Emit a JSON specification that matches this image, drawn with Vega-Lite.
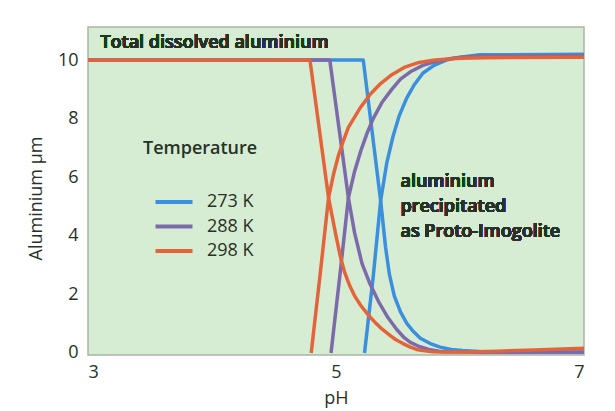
{
  "$schema": "https://vega.github.io/schema/vega-lite/v6.json",
  "autosize": "none",
  "width": 496,
  "height": 328,
  "padding": {"left": 88, "top": 27, "right": 31, "bottom": 56},
  "background": "#ffffff",
  "config": {
    "view": {"fill": "#d7edd3", "stroke": "#a9b5a7", "strokeWidth": 1.5},
    "font": "Open Sans",
    "axis": {
      "labelFont": "Open Sans",
      "titleFont": "Open Sans",
      "labelColor": "#263226",
      "titleColor": "#263226",
      "labelFontSize": 18,
      "titleFontSize": 18,
      "labelFontWeight": 500,
      "titleFontWeight": 500,
      "ticks": false,
      "grid": false,
      "domain": false
    },
    "legend": {
      "labelFont": "Open Sans",
      "titleFont": "Open Sans"
    }
  },
  "data": {
    "values": [
      {"pH": 3.0, "al": 10.0, "temp": "273 K", "kind": "dissolved"},
      {"pH": 5.22, "al": 10.0, "temp": "273 K", "kind": "dissolved"},
      {"pH": 5.36, "al": 5.2, "temp": "273 K", "kind": "dissolved"},
      {"pH": 5.4, "al": 3.6, "temp": "273 K", "kind": "dissolved"},
      {"pH": 5.43, "al": 2.7, "temp": "273 K", "kind": "dissolved"},
      {"pH": 5.47, "al": 1.95, "temp": "273 K", "kind": "dissolved"},
      {"pH": 5.52, "al": 1.4, "temp": "273 K", "kind": "dissolved"},
      {"pH": 5.57, "al": 1.02, "temp": "273 K", "kind": "dissolved"},
      {"pH": 5.62, "al": 0.75, "temp": "273 K", "kind": "dissolved"},
      {"pH": 5.68, "al": 0.5, "temp": "273 K", "kind": "dissolved"},
      {"pH": 5.76, "al": 0.32, "temp": "273 K", "kind": "dissolved"},
      {"pH": 5.84, "al": 0.2, "temp": "273 K", "kind": "dissolved"},
      {"pH": 5.93, "al": 0.12, "temp": "273 K", "kind": "dissolved"},
      {"pH": 6.02, "al": 0.08, "temp": "273 K", "kind": "dissolved"},
      {"pH": 6.15, "al": 0.05, "temp": "273 K", "kind": "dissolved"},
      {"pH": 6.3, "al": 0.03, "temp": "273 K", "kind": "dissolved"},
      {"pH": 7.0, "al": 0.02, "temp": "273 K", "kind": "dissolved"},

      {"pH": 5.23, "al": 0.0, "temp": "273 K", "kind": "precipitated"},
      {"pH": 5.3, "al": 2.6, "temp": "273 K", "kind": "precipitated"},
      {"pH": 5.36, "al": 5.2, "temp": "273 K", "kind": "precipitated"},
      {"pH": 5.41, "al": 6.5, "temp": "273 K", "kind": "precipitated"},
      {"pH": 5.46, "al": 7.4, "temp": "273 K", "kind": "precipitated"},
      {"pH": 5.51, "al": 8.1, "temp": "273 K", "kind": "precipitated"},
      {"pH": 5.57, "al": 8.7, "temp": "273 K", "kind": "precipitated"},
      {"pH": 5.63, "al": 9.15, "temp": "273 K", "kind": "precipitated"},
      {"pH": 5.7, "al": 9.55, "temp": "273 K", "kind": "precipitated"},
      {"pH": 5.79, "al": 9.82, "temp": "273 K", "kind": "precipitated"},
      {"pH": 5.89, "al": 10.0, "temp": "273 K", "kind": "precipitated"},
      {"pH": 6.0, "al": 10.1, "temp": "273 K", "kind": "precipitated"},
      {"pH": 6.16, "al": 10.18, "temp": "273 K", "kind": "precipitated"},
      {"pH": 7.0, "al": 10.2, "temp": "273 K", "kind": "precipitated"},

      {"pH": 3.0, "al": 10.0, "temp": "288 K", "kind": "dissolved"},
      {"pH": 4.95, "al": 10.0, "temp": "288 K", "kind": "dissolved"},
      {"pH": 5.1, "al": 5.3, "temp": "288 K", "kind": "dissolved"},
      {"pH": 5.15, "al": 4.1, "temp": "288 K", "kind": "dissolved"},
      {"pH": 5.21, "al": 3.05, "temp": "288 K", "kind": "dissolved"},
      {"pH": 5.27, "al": 2.4, "temp": "288 K", "kind": "dissolved"},
      {"pH": 5.35, "al": 1.7, "temp": "288 K", "kind": "dissolved"},
      {"pH": 5.42, "al": 1.2, "temp": "288 K", "kind": "dissolved"},
      {"pH": 5.49, "al": 0.8, "temp": "288 K", "kind": "dissolved"},
      {"pH": 5.55, "al": 0.52, "temp": "288 K", "kind": "dissolved"},
      {"pH": 5.6, "al": 0.36, "temp": "288 K", "kind": "dissolved"},
      {"pH": 5.67, "al": 0.22, "temp": "288 K", "kind": "dissolved"},
      {"pH": 5.75, "al": 0.12, "temp": "288 K", "kind": "dissolved"},
      {"pH": 5.83, "al": 0.06, "temp": "288 K", "kind": "dissolved"},
      {"pH": 5.9, "al": 0.04, "temp": "288 K", "kind": "dissolved"},
      {"pH": 6.2, "al": 0.02, "temp": "288 K", "kind": "dissolved"},
      {"pH": 7.0, "al": 0.03, "temp": "288 K", "kind": "dissolved"},

      {"pH": 4.96, "al": 0.0, "temp": "288 K", "kind": "precipitated"},
      {"pH": 5.03, "al": 2.6, "temp": "288 K", "kind": "precipitated"},
      {"pH": 5.1, "al": 5.3, "temp": "288 K", "kind": "precipitated"},
      {"pH": 5.15, "al": 6.2, "temp": "288 K", "kind": "precipitated"},
      {"pH": 5.2, "al": 6.9, "temp": "288 K", "kind": "precipitated"},
      {"pH": 5.25, "al": 7.5, "temp": "288 K", "kind": "precipitated"},
      {"pH": 5.3, "al": 8.0, "temp": "288 K", "kind": "precipitated"},
      {"pH": 5.37, "al": 8.55, "temp": "288 K", "kind": "precipitated"},
      {"pH": 5.45, "al": 9.0, "temp": "288 K", "kind": "precipitated"},
      {"pH": 5.52, "al": 9.35, "temp": "288 K", "kind": "precipitated"},
      {"pH": 5.6, "al": 9.6, "temp": "288 K", "kind": "precipitated"},
      {"pH": 5.7, "al": 9.82, "temp": "288 K", "kind": "precipitated"},
      {"pH": 5.8, "al": 9.95, "temp": "288 K", "kind": "precipitated"},
      {"pH": 5.95, "al": 10.07, "temp": "288 K", "kind": "precipitated"},
      {"pH": 6.1, "al": 10.12, "temp": "288 K", "kind": "precipitated"},
      {"pH": 7.0, "al": 10.15, "temp": "288 K", "kind": "precipitated"},

      {"pH": 3.0, "al": 10.0, "temp": "298 K", "kind": "dissolved"},
      {"pH": 4.79, "al": 10.0, "temp": "298 K", "kind": "dissolved"},
      {"pH": 4.94, "al": 5.3, "temp": "298 K", "kind": "dissolved"},
      {"pH": 5.0, "al": 4.0, "temp": "298 K", "kind": "dissolved"},
      {"pH": 5.04, "al": 3.2, "temp": "298 K", "kind": "dissolved"},
      {"pH": 5.07, "al": 2.75, "temp": "298 K", "kind": "dissolved"},
      {"pH": 5.11, "al": 2.3, "temp": "298 K", "kind": "dissolved"},
      {"pH": 5.15, "al": 1.95, "temp": "298 K", "kind": "dissolved"},
      {"pH": 5.2, "al": 1.62, "temp": "298 K", "kind": "dissolved"},
      {"pH": 5.26, "al": 1.3, "temp": "298 K", "kind": "dissolved"},
      {"pH": 5.32, "al": 1.02, "temp": "298 K", "kind": "dissolved"},
      {"pH": 5.37, "al": 0.82, "temp": "298 K", "kind": "dissolved"},
      {"pH": 5.43, "al": 0.62, "temp": "298 K", "kind": "dissolved"},
      {"pH": 5.48, "al": 0.46, "temp": "298 K", "kind": "dissolved"},
      {"pH": 5.54, "al": 0.32, "temp": "298 K", "kind": "dissolved"},
      {"pH": 5.6, "al": 0.2, "temp": "298 K", "kind": "dissolved"},
      {"pH": 5.65, "al": 0.12, "temp": "298 K", "kind": "dissolved"},
      {"pH": 5.7, "al": 0.08, "temp": "298 K", "kind": "dissolved"},
      {"pH": 5.78, "al": 0.04, "temp": "298 K", "kind": "dissolved"},
      {"pH": 5.85, "al": 0.03, "temp": "298 K", "kind": "dissolved"},
      {"pH": 6.0, "al": 0.03, "temp": "298 K", "kind": "dissolved"},
      {"pH": 6.3, "al": 0.06, "temp": "298 K", "kind": "dissolved"},
      {"pH": 6.6, "al": 0.1, "temp": "298 K", "kind": "dissolved"},
      {"pH": 7.0, "al": 0.16, "temp": "298 K", "kind": "dissolved"},

      {"pH": 4.8, "al": 0.0, "temp": "298 K", "kind": "precipitated"},
      {"pH": 4.87, "al": 2.6, "temp": "298 K", "kind": "precipitated"},
      {"pH": 4.94, "al": 5.3, "temp": "298 K", "kind": "precipitated"},
      {"pH": 4.98, "al": 6.1, "temp": "298 K", "kind": "precipitated"},
      {"pH": 5.02, "al": 6.75, "temp": "298 K", "kind": "precipitated"},
      {"pH": 5.06, "al": 7.25, "temp": "298 K", "kind": "precipitated"},
      {"pH": 5.1, "al": 7.7, "temp": "298 K", "kind": "precipitated"},
      {"pH": 5.15, "al": 8.05, "temp": "298 K", "kind": "precipitated"},
      {"pH": 5.2, "al": 8.4, "temp": "298 K", "kind": "precipitated"},
      {"pH": 5.28, "al": 8.85, "temp": "298 K", "kind": "precipitated"},
      {"pH": 5.36, "al": 9.2, "temp": "298 K", "kind": "precipitated"},
      {"pH": 5.45, "al": 9.5, "temp": "298 K", "kind": "precipitated"},
      {"pH": 5.55, "al": 9.75, "temp": "298 K", "kind": "precipitated"},
      {"pH": 5.67, "al": 9.92, "temp": "298 K", "kind": "precipitated"},
      {"pH": 5.8, "al": 10.0, "temp": "298 K", "kind": "precipitated"},
      {"pH": 6.0, "al": 10.06, "temp": "298 K", "kind": "precipitated"},
      {"pH": 6.2, "al": 10.08, "temp": "298 K", "kind": "precipitated"},
      {"pH": 7.0, "al": 10.1, "temp": "298 K", "kind": "precipitated"}
    ]
  },
  "layer": [
    {
      "mark": {"type": "line", "strokeWidth": 3.5, "interpolate": "linear", "strokeJoin": "round", "clip": true},
      "encoding": {
        "x": {
          "field": "pH", "type": "quantitative",
          "scale": {"domain": [3, 7], "nice": false},
          "axis": {"values": [3, 5, 7], "format": "d", "title": "pH", "labelPadding": 8, "titlePadding": 8}
        },
        "y": {
          "field": "al", "type": "quantitative",
          "scale": {"domain": [-0.07, 11.13], "nice": false, "zero": false},
          "axis": {"values": [0, 2, 4, 6, 8, 10], "title": "Aluminium µm", "labelPadding": 10, "titlePadding": 12, "titleY": 171}
        },
        "color": {
          "field": "temp", "type": "nominal",
          "scale": {"domain": ["273 K", "288 K", "298 K"], "range": ["#3a8fde", "#7c6aaa", "#e3643a"]},
          "legend": {
            "title": "Temperature",
            "orient": "none",
            "legendX": 55,
            "legendY": 113,
            "titleFontSize": 18,
            "titleFontWeight": 600,
            "titleColor": "#263226",
            "titlePadding": 35,
            "labelFontSize": 18,
            "labelFontWeight": 500,
            "labelColor": "#263226",
            "labelOffset": 12,
            "symbolType": "stroke",
            "symbolSize": 1370,
            "symbolStrokeWidth": 4,
            "symbolOffset": 10,
            "clipHeight": 18,
            "rowPadding": 6.5
          }
        },
        "detail": {"field": "kind", "type": "nominal"}
      }
    },
    {
      "mark": {"type": "text", "align": "left", "baseline": "middle", "fontSize": 18, "fontWeight": 600, "font": "Open Sans", "color": "#263226", "text": "Total dissolved aluminium"},
      "encoding": {"x": {"datum": 3.1}, "y": {"datum": 10.58}}
    },
    {
      "mark": {"type": "text", "align": "left", "baseline": "top", "fontSize": 18, "fontWeight": 600, "font": "Open Sans", "lineHeight": 25, "color": "#263226", "text": ["aluminium", "precipitated", "as Proto-Imogolite"]},
      "encoding": {"x": {"datum": 5.52}, "y": {"datum": 6.16}}
    }
  ]
}
